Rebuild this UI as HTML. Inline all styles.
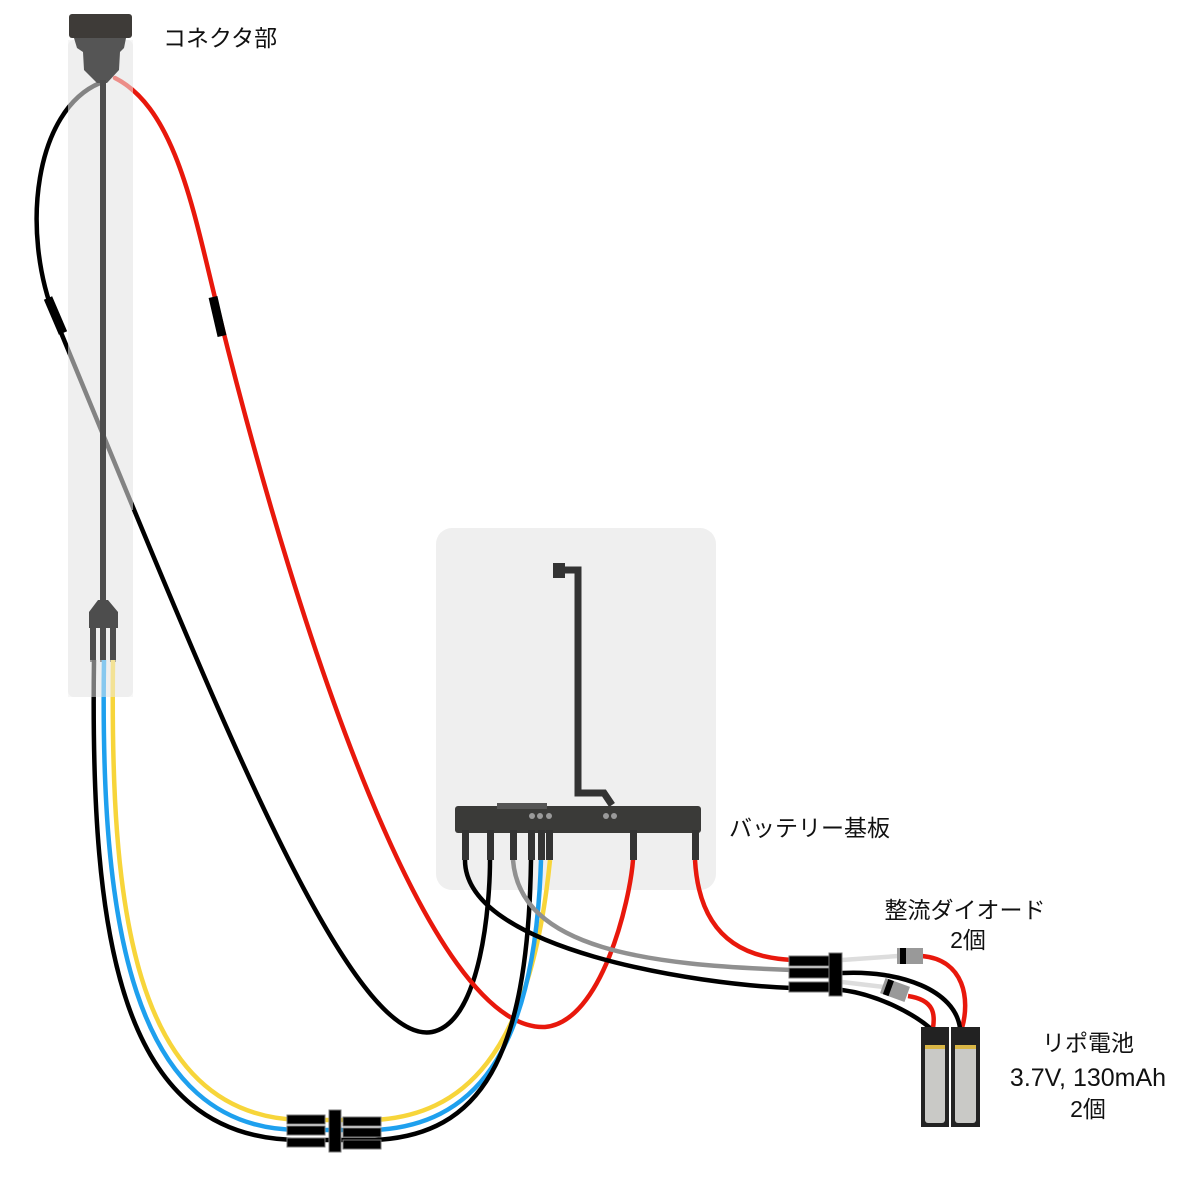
<!DOCTYPE html>
<html><head><meta charset="utf-8"><style>
html,body{margin:0;padding:0;background:#fff;}
svg{display:block;}
text{font-family:"Liberation Sans","Noto Sans CJK JP",sans-serif;font-size:23px;fill:#111;}
</style></head><body>
<svg width="1200" height="1181" viewBox="0 0 1200 1181">
<rect x="68" y="40" width="65" height="657" rx="6" fill="#efefef"/>
<rect x="436" y="528" width="280" height="362" rx="16" fill="#efefef"/>
<g fill="none" stroke-linecap="round">
<path d="M100,83 C35,110 20,230 55,318 L130,500 C250,790 360,1045 432,1032 C482,1022 490,900 490,860" stroke="#000" stroke-width="4.5"/>
<path d="M115,78 C178,110 195,220 220,318 C300,640 430,1032 545,1027 C602,1022 630,900 633,860" stroke="#e8180c" stroke-width="4.5"/>
</g>
<rect x="68" y="40" width="65" height="470" fill="#efefef" opacity="0.55"/>
<path d="M48,298 L63,333" stroke="#000" stroke-width="9"/>
<path d="M213,297 L222,336" stroke="#000" stroke-width="9"/>
<rect x="69" y="14" width="63" height="24" rx="3" fill="#3e3b38"/>
<path d="M74,38 L126,38 L124,48 L120,52 L119,70 L107,83 L97,83 L84,70 L83,52 L77,48 Z" fill="#555"/>
<rect x="100" y="80" width="6" height="525" fill="#4d4d4d"/>
<path d="M98,600 L108,600 L118,612 L118,628 L89,628 L89,612 Z" fill="#4d4d4d"/>
<rect x="90" y="625" width="6" height="37" fill="#4d4d4d"/>
<rect x="100" y="625" width="6" height="37" fill="#4d4d4d"/>
<rect x="110" y="625" width="6" height="37" fill="#4d4d4d"/>
<g fill="none" stroke-width="4.5">
<path d="M113,660 C110,900 130,1115 300,1120 L375,1120 C460,1115 530,1060 550,860" stroke="#f7d53a"/>
<path d="M104,660 C100,920 130,1130 300,1130 L375,1130 C470,1125 535,1060 541,860" stroke="#1ea0ee"/>
<path d="M94,660 C90,940 120,1140 300,1140 L375,1140 C480,1135 528,1060 531,860" stroke="#000"/>
</g>
<rect x="68" y="660" width="65" height="37" fill="#efefef" opacity="0.5"/>
<g fill="#000" stroke="#777" stroke-width="1">
<rect x="287" y="1115" width="38" height="9"/><rect x="287" y="1126" width="38" height="9"/><rect x="287" y="1138" width="38" height="9"/>
<rect x="329" y="1110" width="12" height="42"/>
<rect x="343" y="1117" width="38" height="9"/><rect x="343" y="1128" width="38" height="9"/><rect x="343" y="1140" width="38" height="9"/>
</g>
<g fill="none" stroke-width="4.5">
<path d="M465,860 C465,950 700,985 792,988" stroke="#000"/>
<path d="M513,860 C520,950 650,965 792,970" stroke="#909090"/>
<path d="M695,860 C700,950 760,958 792,960" stroke="#e8180c"/>
</g>
<rect x="553" y="563" width="12" height="15" fill="#333"/>
<path d="M562,570 L578,570 L578,793 L604,793 L612,805" fill="none" stroke="#333" stroke-width="7"/>
<rect x="455" y="806" width="246" height="27" rx="3" fill="#3a3a38"/>
<rect x="497" y="803" width="50" height="6" fill="#555"/>
<g fill="#9a9a9a"><circle cx="532" cy="816" r="3"/><circle cx="540" cy="816" r="3"/><circle cx="549" cy="816" r="3"/><circle cx="606" cy="816" r="3"/><circle cx="614" cy="816" r="3"/></g>
<g fill="#333">
<rect x="462" y="830" width="7" height="30"/><rect x="487" y="830" width="7" height="30"/><rect x="510" y="830" width="7" height="30"/>
<rect x="528" y="830" width="7" height="30"/><rect x="538" y="830" width="7" height="30"/><rect x="546" y="830" width="7" height="30"/>
<rect x="630" y="830" width="7" height="30"/><rect x="692" y="830" width="7" height="30"/>
</g>
<g fill="none" stroke-width="4.5">
<path d="M842,960 L898,956" stroke="#ddd"/>
<path d="M922,956 C965,960 970,1000 962,1028" stroke="#e8180c"/>
<path d="M842,973 C900,970 955,990 960,1028" stroke="#000"/>
<path d="M842,982 L884,987" stroke="#ddd"/>
<path d="M908,996 C935,1000 935,1015 933,1028" stroke="#e8180c"/>
<path d="M842,990 C880,995 915,1015 930,1028" stroke="#000"/>
</g>
<g fill="#000" stroke="#777" stroke-width="1">
<rect x="789" y="956" width="40" height="10"/><rect x="789" y="968" width="40" height="10"/><rect x="789" y="982" width="40" height="10"/>
<rect x="829" y="953" width="13" height="43"/>
</g>
<rect x="897" y="948" width="26" height="16" fill="#999"/><rect x="900" y="948" width="6" height="16" fill="#000"/>
<g transform="rotate(20 895 990)"><rect x="882" y="982" width="26" height="16" fill="#999"/><rect x="885" y="982" width="6" height="16" fill="#000"/></g>
<rect x="921" y="1027" width="28" height="100" fill="#222"/>
<rect x="951" y="1027" width="29" height="100" fill="#222"/>
<rect x="925" y="1045" width="20" height="78" rx="3" fill="#c9c9c6"/>
<rect x="955" y="1045" width="21" height="78" rx="3" fill="#c9c9c6"/>
<rect x="925" y="1045" width="20" height="4" fill="#d9b646"/><rect x="955" y="1045" width="21" height="4" fill="#d9b646"/>
<text x="163" y="46">コネクタ部</text>
<text x="729" y="836">バッテリー基板</text>
<text x="965" y="918" text-anchor="middle">整流ダイオード</text>
<text x="968" y="948" text-anchor="middle">2個</text>
<text x="1088" y="1051" text-anchor="middle">リポ電池</text>
<text x="1088" y="1086" text-anchor="middle" style="font-size:25px">3.7V, 130mAh</text>
<text x="1088" y="1117" text-anchor="middle">2個</text>
</svg>
</body></html>
